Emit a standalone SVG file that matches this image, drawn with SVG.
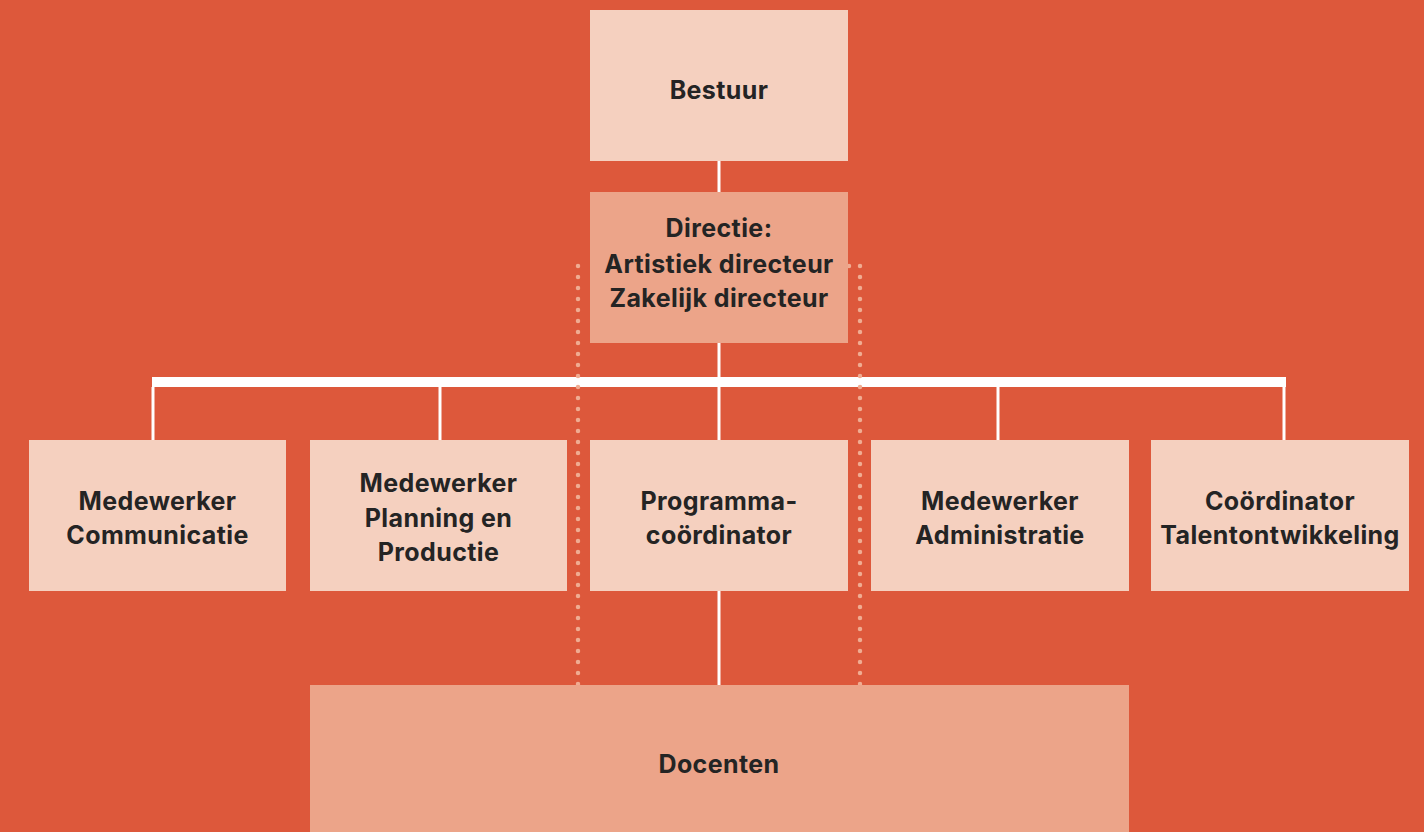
<svg xmlns="http://www.w3.org/2000/svg" width="1424" height="832" viewBox="0 0 1424 832">
<style>
.light{fill:#F5D0BF}
.mid{fill:#ECA489}
.t{font-family:Inter,"Noto Sans","Liberation Sans",sans-serif;font-weight:700;font-size:25px;letter-spacing:0.4px;fill:#242424;text-anchor:middle}
.ln{stroke:#FFFFFF;stroke-width:3;fill:none}
.dot{stroke:#F0AC92;stroke-width:4.5;stroke-linecap:round;stroke-dasharray:0 11;fill:none}
</style>
<rect x="0" y="0" width="1424" height="832" fill="#DD583B"/>
<g id="connectors">
<line class="ln" x1="719" y1="161" x2="719" y2="192"/>
<line class="ln" x1="719" y1="343" x2="719" y2="440"/>
<rect x="152" y="377" width="1134" height="10" fill="#FFFFFF"/>
<line class="ln" x1="153" y1="387" x2="153" y2="440"/>
<line class="ln" x1="440" y1="387" x2="440" y2="440"/>
<line class="ln" x1="998" y1="387" x2="998" y2="440"/>
<line class="ln" x1="1284" y1="387" x2="1284" y2="440"/>
<line class="ln" x1="719" y1="591" x2="719" y2="685"/>
<path class="dot" d="M578,266 V685"/>
<path class="dot" d="M849,266 H860 V685"/>
</g>
<g id="bestuur">
<rect class="light" x="590" y="10" width="258" height="151"/>
<text class="t" x="719" y="99">Bestuur</text>
</g>
<g id="directie">
<rect class="mid" x="590" y="192" width="258" height="151"/>
<text class="t" x="719" y="237">Directie:</text>
<text class="t" x="719" y="273">Artistiek directeur</text>
<text class="t" x="719" y="307">Zakelijk directeur</text>
</g>
<g id="communicatie">
<rect class="light" x="29" y="440" width="257" height="151"/>
<text class="t" x="157.5" y="510">Medewerker</text>
<text class="t" x="157.5" y="544">Communicatie</text>
</g>
<g id="planning">
<rect class="light" x="310" y="440" width="257" height="151"/>
<text class="t" x="438.5" y="492">Medewerker</text>
<text class="t" x="438.5" y="527">Planning en</text>
<text class="t" x="438.5" y="561">Productie</text>
</g>
<g id="programma">
<rect class="light" x="590" y="440" width="258" height="151"/>
<text class="t" x="719" y="510">Programma-</text>
<text class="t" x="719" y="544">coördinator</text>
</g>
<g id="administratie">
<rect class="light" x="871" y="440" width="258" height="151"/>
<text class="t" x="1000" y="510">Medewerker</text>
<text class="t" x="1000" y="544">Administratie</text>
</g>
<g id="talent">
<rect class="light" x="1151" y="440" width="258" height="151"/>
<text class="t" x="1280" y="510">Coördinator</text>
<text class="t" x="1280" y="544">Talentontwikkeling</text>
</g>
<g id="docenten">
<rect class="mid" x="310" y="685" width="819" height="147"/>
<text class="t" x="719" y="773">Docenten</text>
</g>
</svg>
